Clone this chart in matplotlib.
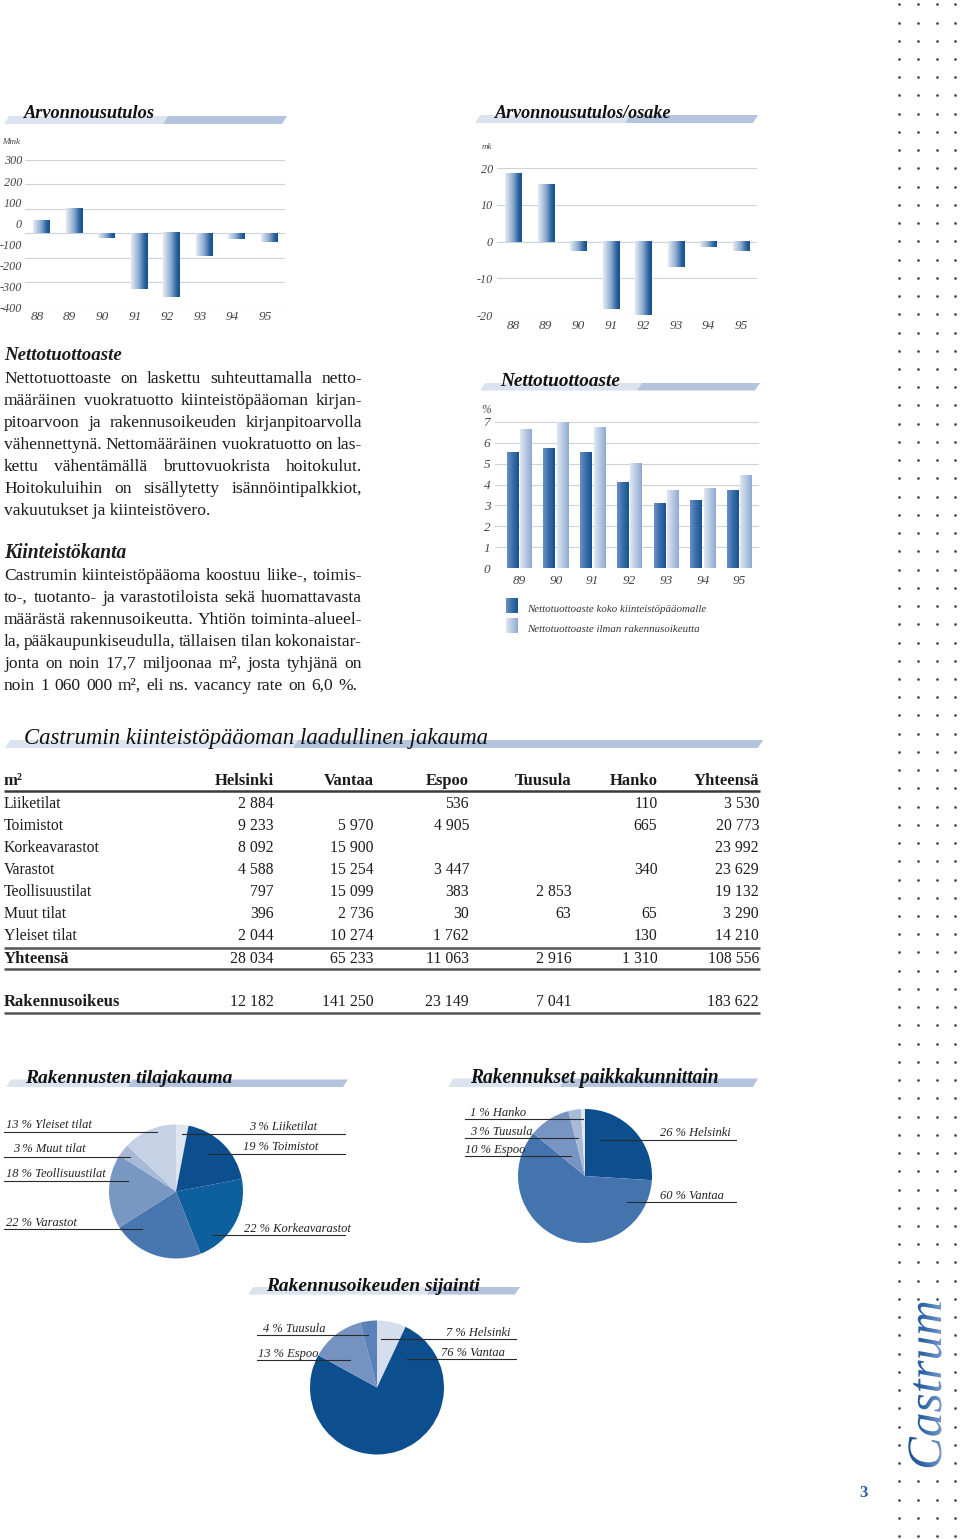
import numpy as np
import matplotlib
matplotlib.use("Agg")
import matplotlib.pyplot as plt
from matplotlib.colors import LinearSegmentedColormap
from matplotlib.patches import Polygon, PathPatch
from matplotlib.textpath import TextPath
from matplotlib.font_manager import FontProperties
from matplotlib.transforms import Affine2D, ScaledTranslation

W, H = 960, 1539
SERIF = ["Liberation Serif", "DejaVu Serif"]
plt.rcParams["font.family"] = SERIF

# ---------------- data ----------------
years = ["88", "89", "90", "91", "92", "93", "94", "95"]
arvonnousu = [53, 101, -19, -227, -262, -91, -22, -36]          # Mmk
arvo_osake = [18.8, 15.7, -2.5, -18.3, -20.0, -6.9, -1.5, -2.5]  # mk
arvo_labels = ["300", "200", "100", "0", "-100", "-200", "-300", "-400"]
osake_labels = ["20", "10", "0", "-10", "-20"]

netto_years = ["89", "90", "91", "92", "93", "94", "95"]
netto_koko = [5.5, 5.7, 5.5, 4.1, 3.1, 3.2, 3.7]
netto_ilman = [6.6, 7.0, 6.7, 5.0, 3.7, 3.8, 4.4]
netto_legend = ["Nettotuottoaste koko kiinteistöpääomalle",
                "Nettotuottoaste ilman rakennusoikeutta"]

table_cols = ["Helsinki", "Vantaa", "Espoo", "Tuusula", "Hanko", "Yhteensä"]
table_rows = ["Liiketilat", "Toimistot", "Korkeavarastot", "Varastot",
              "Teollisuustilat", "Muut tilat", "Yleiset tilat"]
helsinki = [2884, 9233, 8092, 4588, 797, 396, 2044]
vantaa = [None, 5970, 15900, 15254, 15099, 2736, 10274]
espoo = [536, 4905, None, 3447, 383, 30, 1762]
tuusula = [None, None, None, None, 2853, 63, None]
hanko = [110, 665, None, 340, None, 65, 130]
yhteensa = [3530, 20773, 23992, 23629, 19132, 3290, 14210]
totals = [28034, 65233, 11063, 2916, 1310, 108556]
rakennusoikeus = [12182, 141250, 23149, 7041, None, 183622]

tila_names = ["Liiketilat", "Toimistot", "Korkeavarastot", "Varastot",
              "Teollisuustilat", "Muut tilat", "Yleiset tilat"]
tila_pct = [3, 19, 22, 22, 18, 3, 13]
paikka_names = ["Helsinki", "Vantaa", "Espoo", "Tuusula", "Hanko"]
paikka_pct = [26, 60, 10, 3, 1]
oikeus_names = ["Helsinki", "Vantaa", "Espoo", "Tuusula"]
oikeus_pct = [7, 76, 13, 4]

para1 = [
    "Nettotuottoaste on laskettu suhteuttamalla netto-",
    "määräinen vuokratuotto kiinteistöpääoman kirjan-",
    "pitoarvoon ja rakennusoikeuden kirjanpitoarvolla",
    "vähennettynä. Nettomääräinen vuokratuotto on las-",
    "kettu vähentämällä bruttovuokrista hoitokulut.",
    "Hoitokuluihin on sisällytetty isännöintipalkkiot,",
    "vakuutukset ja kiinteistövero.",
]
para2 = [
    "Castrumin kiinteistöpääoma koostuu liike-, toimis-",
    "to-, tuotanto- ja varastotiloista sekä huomattavasta",
    "määrästä rakennusoikeutta. Yhtiön toiminta-alueel-",
    "la, pääkaupunkiseudulla, tällaisen tilan kokonaistar-",
    "jonta on noin 17,7 miljoonaa m², josta tyhjänä on",
    "noin 1 060 000 m², eli ns. vacancy rate on 6,0 %.",
]

# ---------------- styles ----------------
TXT = "#1c1c1c"
TICK = "#444444"
GRID = "#cdd3dc"
BODY = 12.6
LIGHT_BAND, DARK_BAND = "#dbe3ef", "#b4c4de"
bar_cmap = LinearSegmentedColormap.from_list(
    "bar", [(0, "#e4eaf4"), (0.45, "#93aed2"), (0.8, "#2b65a0"), (1, "#154e8b")])
dark_cmap = LinearSegmentedColormap.from_list("dk", ["#6a91c3", "#3a6eaa", "#15528f"])
light_cmap = LinearSegmentedColormap.from_list("lt", ["#e0e7f2", "#b7c9e2", "#8eaad2"])
castrum_cmap = LinearSegmentedColormap.from_list("ca", ["#174c8c", "#2c65a6", "#7c9bcb"])
GRAD = np.linspace(0, 1, 100).reshape(1, -1)

fig = plt.figure(figsize=(W / 100, H / 100), dpi=100)
renderer = fig.canvas.get_renderer()


def px_axes(x0, y0, x1, y1):
    return fig.add_axes([x0 / W, 1 - y1 / H, (x1 - x0) / W, (y1 - y0) / H])


page = fig.add_axes([0, 0, 1, 1])
page.set_xlim(0, W)
page.set_ylim(H, 0)
page.axis("off")
page.set_zorder(10)


def width_of(t):
    return t.get_window_extent(renderer).width


def fit_text(x, y, s, width, **kw):
    t = page.text(x, y, s, fontsize=10, va="baseline", **kw)
    t.set_fontsize(10 * width / width_of(t))
    return t


def justify(x0, x1, y, line, **kw):
    words = line.split(" ")
    texts = [page.text(0, y, w, va="baseline", **kw) for w in words]
    widths = [width_of(t) for t in texts]
    gap = (x1 - x0 - sum(widths)) / max(len(words) - 1, 1)
    x = x0
    for t, w in zip(texts, widths):
        t.set_x(x)
        x += w + gap


def band(x0, xs, x1, ytop, ybot, slant=5):
    page.add_patch(Polygon([(x0 + slant, ytop), (xs + slant, ytop), (xs, ybot), (x0, ybot)],
                           closed=True, facecolor=LIGHT_BAND, edgecolor="none"))
    page.add_patch(Polygon([(xs + slant, ytop), (x1 + slant, ytop), (x1, ybot), (xs, ybot)],
                           closed=True, facecolor=DARK_BAND, edgecolor="none"))


def title(x, y, s, width, weight="bold", color="#111111"):
    fit_text(x, y, s, width, style="italic", weight=weight, color=color)


def style_axes(ax):
    ax.set_axisbelow(True)
    for sp in ax.spines.values():
        sp.set_visible(False)
    ax.patch.set_visible(False)
    ax.tick_params(length=0)
    ax.yaxis.grid(True, color=GRID, lw=0.8)
    ax.xaxis.grid(False)


def grad_bar(ax, x, w, v, cmap):
    ax.imshow(GRAD, cmap=cmap, aspect="auto", interpolation="bilinear",
              extent=[x - w / 2, x + w / 2, 0, v], zorder=3)


# ---------------- chart 1: Arvonnousutulos ----------------
band(4, 163, 282, 116, 124)
title(24, 118.5, "Arvonnousutulos", 131)
ax1 = px_axes(25, 160, 285, 306.7)
for i, v in enumerate(arvonnousu):
    grad_bar(ax1, i, 0.5, v, bar_cmap)
style_axes(ax1)
ax1.set_xlim(-0.5, 7.5)
ax1.set_ylim(-300, 300)
ax1.set_yticks(range(-300, 301, 100))
ax1.tick_params(labelleft=False, pad=3.4)
ax1.set_xticks(range(len(years)))
ax1.set_xticklabels(years, fontsize=9.5, fontstyle="italic", color=TICK)
shift = ScaledTranslation(-4 / 100, 0, fig.dpi_scale_trans)
for lbl in ax1.get_xticklabels():
    lbl.set_transform(lbl.get_transform() + shift)
lab1 = px_axes(25, 160, 285, 308)
lab1.set_ylim(-400, 300)
lab1.set_yticks(range(300, -401, -100))
lab1.set_yticklabels(arvo_labels, fontsize=8.7, fontstyle="italic", color=TICK)
lab1.set_xticks([])
lab1.tick_params(length=0, pad=2.2)
lab1.patch.set_visible(False)
for sp in lab1.spines.values():
    sp.set_visible(False)
page.text(2, 144, "Mmk", fontsize=6.5, style="italic", color=TICK, va="baseline")

# ---------------- chart 2: Arvonnousutulos/osake ----------------
band(475, 625, 753, 115, 123)
title(495, 118, "Arvonnousutulos/osake", 177)
ax2 = px_axes(497, 168.3, 757, 315)
for i, v in enumerate(arvo_osake):
    grad_bar(ax2, i, 0.5, v, bar_cmap)
style_axes(ax2)
ax2.set_xlim(-0.5, 7.5)
ax2.set_ylim(-20, 20)
ax2.set_yticks([20, 10, 0, -10, -20])
ax2.set_yticklabels(osake_labels, fontsize=8.7, fontstyle="italic", color=TICK)
ax2.tick_params(axis="y", pad=3)
ax2.tick_params(axis="x", pad=3.4)
ax2.set_xticks(range(len(years)))
ax2.set_xticklabels(years, fontsize=9.5, fontstyle="italic", color=TICK)
page.text(482, 149, "mk", fontsize=6.5, style="italic", color=TICK, va="baseline")

# ---------------- chart 3: Nettotuottoaste ----------------
band(480, 637, 755, 383, 390.5)
title(500, 385.5, "Nettotuottoaste", 120)
ax3 = px_axes(495, 421.7, 759, 568.3)
for i, (a, b) in enumerate(zip(netto_koko, netto_ilman)):
    grad_bar(ax3, i - 0.18, 0.32, a, dark_cmap)
    grad_bar(ax3, i + 0.18, 0.31, b, light_cmap)
style_axes(ax3)
ax3.set_xlim(-0.66, 6.53)
ax3.set_ylim(0, 7)
ax3.set_yticks(range(8))
ax3.set_yticklabels([str(v) for v in range(8)], fontsize=9.5, fontstyle="italic", color=TICK)
ax3.tick_params(axis="y", pad=3.4)
ax3.tick_params(axis="x", pad=4.5)
ax3.set_xticks(range(len(netto_years)))
ax3.set_xticklabels(netto_years, fontsize=9.5, fontstyle="italic", color=TICK)
page.text(481, 413, "%", fontsize=8.5, style="italic", color=TICK, va="baseline")
for k, (lbl, cm) in enumerate(zip(netto_legend, [dark_cmap, light_cmap])):
    top = 598 + 20 * k
    page.imshow(GRAD, cmap=cm, aspect="auto", extent=[506, 518, top + 15, top], zorder=3)
    page.text(527, top + 14.5, lbl, fontsize=7.8, style="italic", color="#333333",
              va="baseline")

# ---------------- text column ----------------
title(4, 360, "Nettotuottoaste", 118, color=TXT)
for i, line in enumerate(para1):
    y = 383 + 22 * i
    if i < len(para1) - 1:
        justify(4, 362, y, line, fontsize=BODY, color=TXT)
    else:
        page.text(4, y, line, fontsize=BODY, color=TXT, va="baseline")
title(4, 558, "Kiinteistökanta", 123, color=TXT)
for i, line in enumerate(para2):
    justify(4, 362 if i < len(para2) - 1 else 357, 580 + 22 * i, line,
            fontsize=BODY, color=TXT)

# ---------------- table ----------------
band(5, 293, 758, 740, 748)
title(24, 744, "Castrumin kiinteistöpääoman laadullinen jakauma", 464, weight="normal")
COL_X = [274, 373.5, 469, 571.5, 657.5, 759]


def fmt(v):
    return "" if v is None else f"{v:,}".replace(",", " ")


page.text(4, 785, "m²", fontsize=12, weight="bold", color=TXT, va="baseline")
for c, x in zip(table_cols, COL_X):
    page.text(x, 785, c, fontsize=12, weight="bold", color=TXT, va="baseline", ha="right")
columns = [helsinki, vantaa, espoo, tuusula, hanko, yhteensa]
for r, name in enumerate(table_rows):
    y = 808 + 22 * r
    page.text(4, y, name, fontsize=11.3, color=TXT, va="baseline")
    for col, x in zip(columns, COL_X):
        page.text(x, y, fmt(col[r]), fontsize=11.3, color=TXT, va="baseline", ha="right")
for y, name, vals in [(963, "Yhteensä", totals), (1006, "Rakennusoikeus", rakennusoikeus)]:
    page.text(4, y, name, fontsize=12, weight="bold", color=TXT, va="baseline")
    for v, x in zip(vals, COL_X):
        page.text(x, y, fmt(v), fontsize=11.3, color=TXT, va="baseline", ha="right")
for y, c in [(790.7, "#3a3a3a"), (948, "#555555"), (969, "#555555"), (1013, "#555555")]:
    page.plot([4, 760], [y, y], color=c, lw=1.8, solid_capstyle="butt")

# ---------------- pies ----------------
tila_colors = ["#dfe6f0", "#0d4e8e", "#0e5f9e", "#4877b0", "#7897c3", "#a7b9d6", "#c5d2e6"]
paikka_colors = ["#0d4e8e", "#4474ad", "#7794c2", "#a8bad8", "#dfe6f1"]
oikeus_colors = ["#d6deed", "#0d4f8e", "#7592c1", "#5a82b8"]

# label layout: text x, text baseline, leader x0, leader x1, leader y
tila_layout = {
    "Liiketilat": (249, 1130, 182, 345, 1134),
    "Toimistot": (243, 1150, 208, 345, 1154),
    "Korkeavarastot": (244, 1231.5, 213, 345, 1235),
    "Varastot": (6, 1225.5, 4, 142, 1228.5),
    "Teollisuustilat": (6, 1177, 4, 128, 1181),
    "Muut tilat": (13, 1152.5, 4, 130, 1157),
    "Yleiset tilat": (6, 1128, 4, 157, 1132),
}
paikka_layout = {
    "Helsinki": (660, 1136.5, 600, 736, 1139.5),
    "Vantaa": (660, 1199, 627, 736, 1201.7),
    "Espoo": (465, 1153, 465, 571, 1156),
    "Tuusula": (470, 1135, 465, 578, 1138),
    "Hanko": (470, 1116, 465, 583, 1119),
}
oikeus_layout = {
    "Helsinki": (446, 1335.5, 381, 516, 1339),
    "Vantaa": (441, 1356, 407, 516, 1358.5),
    "Espoo": (258, 1356.5, 257, 350, 1360),
    "Tuusula": (263, 1331.5, 257, 368, 1334.5),
}


def pie(cx, cy, r, names, pct, colors, layout):
    ax = px_axes(cx - r, cy - r, cx + r, cy + r)
    ax.pie(pct, colors=colors, startangle=90, counterclock=False, radius=1,
           wedgeprops=dict(linewidth=0))
    ax.set_xlim(-1, 1)
    ax.set_ylim(-1, 1)
    for n, p in zip(names, pct):
        tx, ty, lx0, lx1, ly = layout[n]
        page.text(tx, ty, f"{p} % {n}", fontsize=9, style="italic", color="#222222",
                  va="baseline")
        page.plot([lx0, lx1], [ly, ly], color="#2a2a2a", lw=0.8)


band(6, 128, 343, 1079.5, 1087)
title(25, 1083, "Rakennusten tilajakauma", 208)
pie(176, 1191.5, 67, tila_names, tila_pct, tila_colors, tila_layout)

band(448, 560, 753, 1078.5, 1087)
title(470, 1083, "Rakennukset paikkakunnittain", 250)
pie(585, 1176, 67, paikka_names, paikka_pct, paikka_colors, paikka_layout)

band(248, 427, 515, 1287, 1294.5)
title(266, 1291, "Rakennusoikeuden sijainti", 215)
pie(377, 1387.5, 67, oikeus_names, oikeus_pct, oikeus_colors, oikeus_layout)

# ---------------- right margin ----------------
dot_cols = [899, 918, 936.5, 955]
dot_rows = np.linspace(4.3, 1536, 85)
for k, y in enumerate(dot_rows):
    xs = dot_cols if not (72 <= k <= 80) else [dot_cols[0], dot_cols[3]]
    page.scatter(xs, [y] * len(xs), s=3.6, color="#34424f", linewidths=0, zorder=4)

fp = FontProperties(family="Liberation Serif", style="italic")
tp0 = TextPath((0, 0), "Castrum", size=48, prop=fp)
size = 48 * 165 / tp0.get_extents().width
tp = TextPath((0, 0), "Castrum", size=size, prop=fp)
flip = Affine2D(np.array([[0, -1, 941], [-1, 0, 1470], [0, 0, 1]], dtype=float))
cpatch = PathPatch(tp, transform=flip + page.transData, facecolor="none", edgecolor="none")
page.add_patch(cpatch)
im = page.imshow(GRAD, cmap=castrum_cmap, aspect="auto", interpolation="bilinear",
                 extent=[903, 943, 1475, 1298], zorder=5)
im.set_clip_path(cpatch)
page.text(863, 1493, "3", fontsize=12, weight="bold", color="#2a5d9c",
          ha="center", va="center")

page.set_xlim(0, W)
page.set_ylim(H, 0)
fig.savefig("out.png", dpi=100, facecolor="white")
